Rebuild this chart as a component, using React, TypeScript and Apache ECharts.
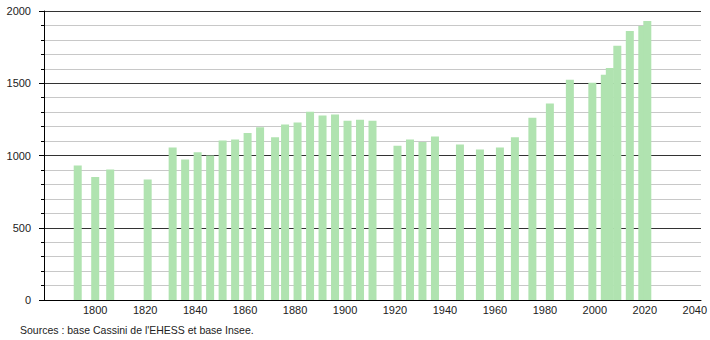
import React, { useEffect, useRef } from "react";
import * as echarts from "echarts";

const years = [
  1793, 1800, 1806, 1821, 1831, 1836, 1841, 1846, 1851, 1856, 1861, 1866, 1872, 1876, 1881, 1886,
  1891, 1896, 1901, 1906, 1911, 1921, 1926, 1931, 1936, 1946, 1954, 1962, 1968, 1975, 1982, 1990,
  1999, 2004, 2006, 2009, 2014, 2019, 2021,
];
const population = [
  931, 851, 903, 834, 1055, 972, 1023, 1000, 1103, 1110, 1156, 1195, 1126, 1214, 1228, 1303,
  1276, 1283, 1241, 1248, 1241, 1067, 1110, 1094, 1131, 1076, 1041, 1055, 1126, 1262, 1359, 1524,
  1503, 1559, 1605, 1759, 1862, 1897, 1931,
];
const xTickLabels = [1800, 1820, 1840, 1860, 1880, 1900, 1920, 1940, 1960, 1980, 2000, 2020, 2040];
const sourceText = "Sources : base Cassini de l'EHESS et base Insee.";

export default function App() {
  const ref = useRef<HTMLDivElement>(null);
  useEffect(() => {
    document.body.style.margin = "0";
    const chart = echarts.init(ref.current!, null, { renderer: "svg" });
    const font = "'Liberation Sans', Arial, sans-serif";
    chart.setOption({
      animation: false,
      backgroundColor: "#ffffff",
      grid: { left: 44, right: 8, top: 11, bottom: 40, containLabel: false },
      xAxis: {
        type: "value",
        min: 1779.5,
        max: 2042.5,
        axisLine: { show: true, lineStyle: { color: "#000", width: 1 } },
        axisTick: { show: false },
        splitLine: { show: false },
        axisLabel: {
          fontFamily: font,
          fontSize: 11,
          color: "#222",
          margin: 4,
          customValues: xTickLabels,
          formatter: (v: number) => String(Math.round(v)),
        },
      },
      yAxis: {
        type: "value",
        min: 0,
        max: 2000,
        interval: 500,
        axisLine: { show: true, lineStyle: { color: "#000", width: 1 } },
        axisTick: { show: true, length: 5, lineStyle: { color: "#000" } },
        minorTick: { show: true, splitNumber: 5, length: 3, lineStyle: { color: "#000" } },
        splitLine: { show: true, lineStyle: { color: "#333", width: 1 } },
        minorSplitLine: { show: true, lineStyle: { color: "#c8c8c8", width: 1 } },
        axisLabel: {
          fontFamily: font,
          fontSize: 11,
          color: "#222",
          margin: 13,
          formatter: (v: number) => String(v),
        },
      },
      series: [
        {
          type: "bar",
          data: years.map((y, i) => [y, population[i]]),
          barWidth: 8,
          itemStyle: { color: "#b0e3b0" },
        },
      ],
      graphic: [
        {
          type: "text",
          left: 20,
          top: 324,
          style: { text: sourceText, fontFamily: font, fontSize: 10.5, fill: "#222" },
        },
      ],
    });
    return () => chart.dispose();
  }, []);
  return <div ref={ref} style={{ width: 710, height: 340 }} />;
}
